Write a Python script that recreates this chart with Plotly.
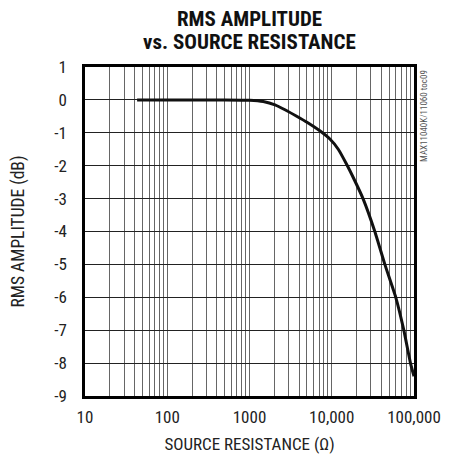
import plotly.graph_objects as go

# Data
resistance = [43, 500, 1000, 1470, 2040, 2700, 3700, 5000, 7160, 9500, 12000,
              15100, 19000, 24000, 33400, 44200, 60000, 75200, 90600, 100000]
amplitude_db = [0, 0, -0.01, -0.05, -0.15, -0.3, -0.49, -0.68, -0.94, -1.19, -1.5,
                -1.95, -2.45, -3.0, -4.0, -5.0, -6.0, -7.0, -8.0, -8.4]

x_major = [10, 100, 1000, 10000, 100000]
x_labels = ["10", "100", "1000", "10,000", "100,000"]
y_ticks = [1, 0, -1, -2, -3, -4, -5, -6, -7, -8, -9]
y_labels = [str(v) for v in y_ticks]

title_lines = ["RMS AMPLITUDE", "vs. SOURCE RESISTANCE"]
side_note = "MAX11040K/11060 toc09"

# full log grid values (1..9 per decade)
x_grid = []
for d in x_major[:-1]:
    for m in range(1, 10):
        x_grid.append(d * m)
x_grid.append(x_major[-1])
x_grid_text = [x_labels[x_major.index(v)] if v in x_major else "" for v in x_grid]

FONT = "Liberation Sans Narrow, Roboto Condensed, Arial Narrow, Liberation Sans, sans-serif"

fig = go.Figure()
fig.add_trace(go.Scatter(
    x=resistance, y=amplitude_db, mode="lines",
    line=dict(color="#111", width=3, shape="spline", smoothing=0.4),
    showlegend=False, hoverinfo="skip"))

# page has an 8px body margin, so the figure is slightly smaller than the window
fig.update_layout(
    width=446, height=447, autosize=False,
    margin=dict(l=77, r=40, t=59, b=59, autoexpand=False),
    paper_bgcolor="white", plot_bgcolor="white",
    font=dict(family=FONT, size=16, color="#222"),
)

fig.update_xaxes(
    type="log", range=[1, 5], automargin=False,
    tickmode="array", tickvals=x_grid, ticktext=x_grid_text,
    showgrid=True, gridcolor="#666", gridwidth=1,
    showline=True, linecolor="black", linewidth=2.5, mirror=True,
    ticks="", ticklabelstandoff=4,
    tickfont=dict(family=FONT, size=17, color="#222"),
    title=dict(text="SOURCE RESISTANCE (Ω)", standoff=12,
               font=dict(family=FONT, size=17, color="#222")),
    zeroline=False,
)
fig.update_yaxes(
    range=[-9, 1], automargin=False,
    tickmode="array", tickvals=y_ticks, ticktext=y_labels,
    showgrid=True, gridcolor="#222", gridwidth=1,
    showline=True, linecolor="black", linewidth=2.5, mirror=True,
    ticks="", ticklabelstandoff=12,
    tickfont=dict(family=FONT, size=17, color="#222"),
    title=dict(text="RMS AMPLITUDE (dB)", standoff=31,
               font=dict(family=FONT, size=17.5, color="#222")),
    zeroline=False,
)

for txt, shift in zip(title_lines, [48.5, 25]):
    fig.add_annotation(
        text="<b>" + txt + "</b>",
        xref="paper", yref="paper", x=0.5, y=1, xanchor="center", yanchor="middle",
        yshift=shift, showarrow=False,
        font=dict(family=FONT, size=21, color="#111"))

fig.add_annotation(
    text=side_note, textangle=-90,
    xref="paper", yref="paper", x=1, y=1, xanchor="left", yanchor="top",
    xshift=3, yshift=-1, showarrow=False,
    font=dict(family=FONT, size=9, color="#555"))

fig.write_html("out.html")
